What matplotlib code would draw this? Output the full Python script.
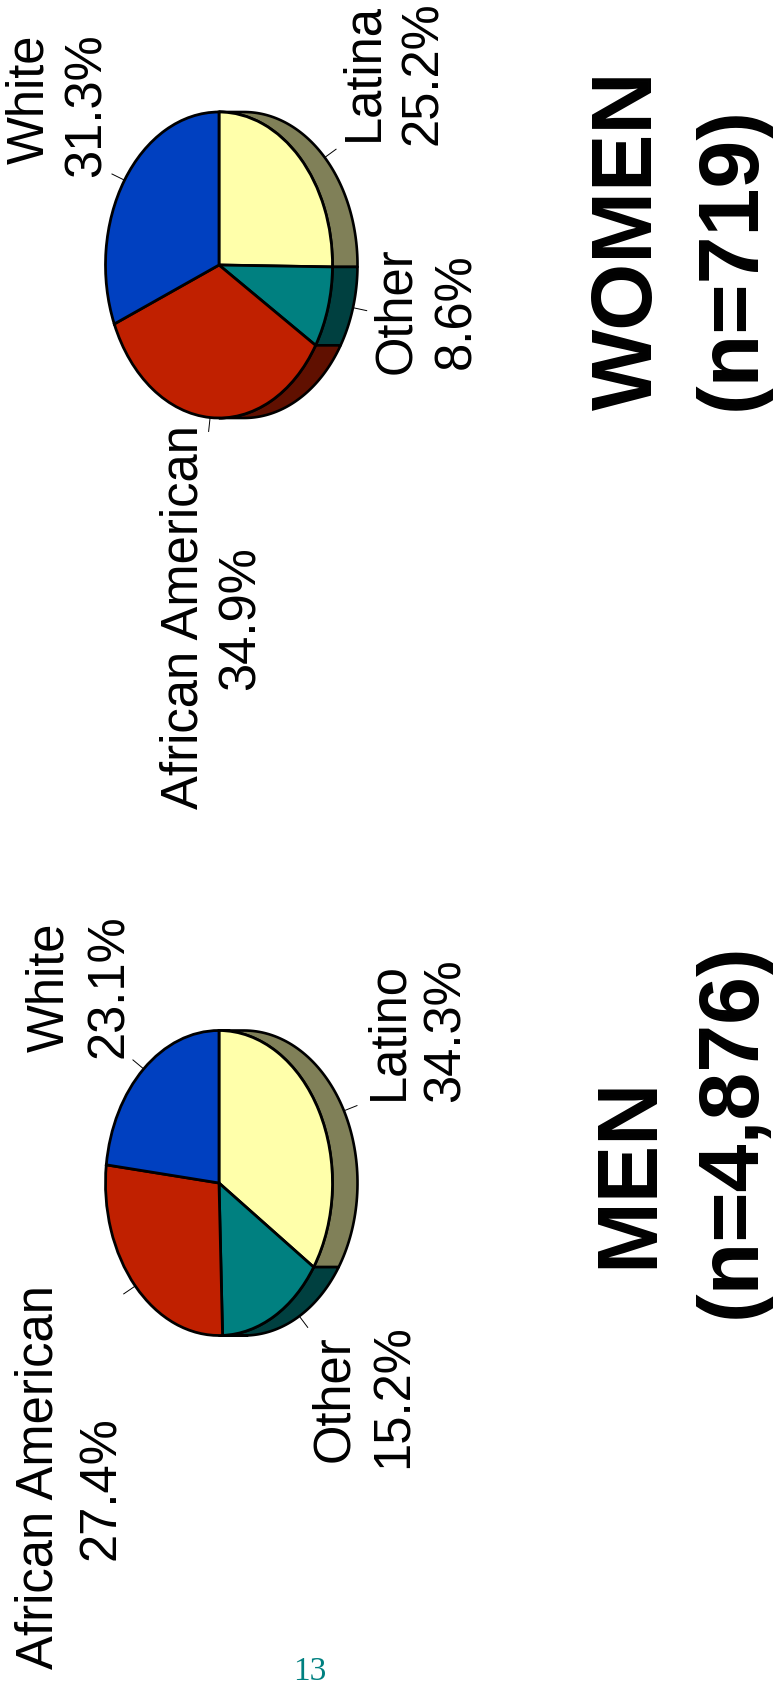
import numpy as np
import matplotlib
matplotlib.use("Agg")
import matplotlib.pyplot as plt
from matplotlib.transforms import Affine2D
from matplotlib.patches import Polygon

# ---------------- data ----------------
categories_women = ["Latina", "Other", "African American", "White"]
values_women = [25.2, 8.6, 34.9, 31.3]
categories_men = ["Latino", "Other", "African American", "White"]
values_men = [34.3, 15.2, 27.4, 23.1]
title_women = ["WOMEN", "(n=719)"]
title_men = ["MEN", "(n=4,876)"]
page_number = "13"

top_colors = ["#FFFFAA", "#008080", "#C02000", "#0040C0"]
side_colors = ["#808058", "#004040", "#601000", "#002060"]

W, H = 773, 1684
fig = plt.figure(figsize=(W / 100, H / 100), dpi=100)
ax = fig.add_axes([0, 0, 1, 1])
FONT = "Liberation Sans"


def ellipse_pt(cx, cy, a, b, t):
    t = np.radians(t)
    return cx + a * np.cos(t), cy - b * np.sin(t)


def pie3d(cx, cy, a, b, depth, values):
    vals = np.asarray(values, dtype=float)
    frac = vals / vals.sum()
    cum = np.concatenate([[0], np.cumsum(frac)])
    # side walls (visible right half, depth towards +x)
    for i in range(len(vals)):
        t0 = 90 - cum[i] * 360
        t1 = 90 - cum[i + 1] * 360
        hi = min(t0, 90)
        lo = max(t1, -90)
        if lo < hi:
            ts = np.linspace(hi, lo, 80)
            xs, ys = ellipse_pt(cx, cy, a, b, ts)
            pts = list(zip(xs, ys)) + list(zip(xs[::-1] + depth, ys[::-1]))
            ax.add_patch(Polygon(pts, closed=True, facecolor=side_colors[i],
                                 edgecolor="black", linewidth=1.9, zorder=1,
                                 joinstyle="round"))
    # top face
    tr = Affine2D().scale(a, -b).translate(cx, cy) + ax.transData
    ax.pie(vals, startangle=90, counterclock=False, colors=top_colors,
           wedgeprops=dict(transform=tr, edgecolor="black", linewidth=2.0,
                           zorder=2))
    # leader lines
    for i in range(len(vals)):
        tm = 90 - (cum[i] + cum[i + 1]) / 2 * 360
        x0, y0 = ellipse_pt(cx, cy, a, b, tm)
        if np.cos(np.radians(tm)) > 0:
            x0 += depth
        dx, dy = np.cos(np.radians(tm)) * b, -np.sin(np.radians(tm)) * a
        n = np.hypot(dx, dy)
        ax.plot([x0, x0 + 14 * dx / n], [y0, y0 + 14 * dy / n],
                color="black", lw=0.7, zorder=3)


pie3d(219, 265, 113.5, 153, 25, values_women)
pie3d(219, 1183, 113.5, 152.5, 25, values_men)


def vtext(x, y, s, size, weight="normal"):
    ax.text(x, y, s, rotation=90, rotation_mode="anchor", ha="center",
            va="baseline", fontsize=size, fontweight=weight, family=FONT,
            color="black")

LS = 36.5
# label placement: (baseline x, center y) for name line and percent line
wl = {"Latina": ((377, 72), (437, 73)),
      "Other": ((410, 311), (470, 311)),
      "African American": ((197, 617), (255, 618)),
      "White": ((43, 99), (101, 105))}
for c, v in zip(categories_women, values_women):
    (x1, y1), (x2, y2) = wl[c]
    vtext(x1, y1, c, LS)
    vtext(x2, y2, f"{v:.1f}%", LS)

ml = {"Latino": ((402, 1031), (460, 1030)),
      "Other": ((348, 1399), (408, 1396)),
      "African American": ((53, 1477), (115, 1488)),
      "White": ((63, 987), (123, 986))}
for c, v in zip(categories_men, values_men):
    (x1, y1), (x2, y2) = ml[c]
    vtext(x1, y1, c, LS)
    vtext(x2, y2, f"{v:.1f}%", LS)

TS = 62
vtext(652, 240, title_women[0], TS, "bold")
vtext(755, 258, title_women[1], TS, "bold")
vtext(652, 1172, title_men[0], TS, "bold")
vtext(755, 1130, title_men[1], TS, "bold")

ax.text(310, 1680, page_number, ha="center", va="baseline", fontsize=24,
        family="Liberation Serif", color="#008080")

ax.set_aspect("auto")
ax.set_xlim(0, W)
ax.set_ylim(H, 0)
ax.axis("off")
fig.savefig("out.png", dpi=100, facecolor="white")
